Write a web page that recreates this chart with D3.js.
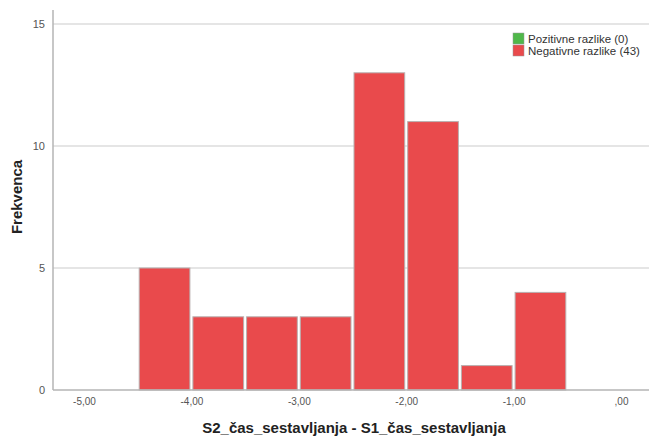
<!DOCTYPE html>
<html>
<head>
<meta charset="utf-8">
<script src="https://cdn.jsdelivr.net/npm/d3@7"></script>
<style>
  body { margin: 0; background: #fff; }
  svg { display: block; font-family: "Liberation Sans", Arial, sans-serif; }
</style>
</head>
<body>
<div id="container"></div>
<script>
/* DATA */
const binStarts = [-4.5, -4.0, -3.5, -3.0, -2.5, -2.0, -1.5, -1.0]
const binWidth = 0.5
const counts = [5, 3, 3, 3, 13, 11, 1, 4]
const xTicks = [-5, -4, -3, -2, -1, 0]
const yTicks = [0, 5, 10, 15]
const legendLabels = ["Pozitivne razlike (0)", "Negativne razlike (43)"]
const legendColors = ["#4fb84a", "#e94a4c"]

/* CONSTANTS */
const width = 649, height = 437
const margin = { top: 10, bottom: 47, left: 53, right: 0 }

const svg = d3.select("#container").append("svg")
  .attr("width", width)
  .attr("height", height)

/* SCALES */
const xScale = d3.scaleLinear()
  .domain([-5, 0])
  .range([84, 621])

const yScale = d3.scaleLinear()
  .domain([0, 15])
  .range([390, 24])

// gridlines
svg.append("g")
  .selectAll("line")
  .data(yTicks.filter(d => d > 0))
  .join("line")
  .attr("x1", margin.left)
  .attr("x2", width)
  .attr("y1", d => yScale(d))
  .attr("y2", d => yScale(d))
  .attr("stroke", "#dcdcdc")
  .attr("stroke-width", 1.5)

// bars
svg.append("g")
  .selectAll("rect")
  .data(binStarts.map((s, i) => ({ x0: s, x1: s + binWidth, n: counts[i] })))
  .join("rect")
  .attr("x", d => xScale(d.x0) + 1.5)
  .attr("width", d => xScale(d.x1) - xScale(d.x0) - 3)
  .attr("y", d => yScale(d.n))
  .attr("height", d => yScale(0) - yScale(d.n))
  .attr("fill", "#e94a4c")
  .attr("stroke", "#b8b0b0")
  .attr("stroke-width", 1)

// axes
const xAxis = d3.axisBottom(xScale)
  .tickValues(xTicks)
  .tickSize(0)
  .tickPadding(8)
  .tickFormat(d => d === 0 ? ",00" : d3.format(".2f")(d).replace(".", ",").replace("−", "-"))
const gx = svg.append("g")
  .attr("transform", `translate(0,${yScale(0)})`)
  .call(xAxis)
gx.select(".domain").remove()
gx.selectAll("text").attr("font-size", 10).attr("fill", "#555")
  .attr("font-family", "Liberation Sans, Arial, sans-serif")

svg.append("line")
  .attr("x1", margin.left).attr("x2", width)
  .attr("y1", yScale(0)).attr("y2", yScale(0))
  .attr("stroke", "#b4b4b4").attr("stroke-width", 1.5)

const yAxis = d3.axisLeft(yScale)
  .tickValues(yTicks)
  .tickSize(0)
  .tickPadding(8)
const gy = svg.append("g")
  .attr("transform", `translate(${margin.left},0)`)
  .call(yAxis)
gy.select(".domain").remove()
gy.selectAll("text").attr("font-size", 11).attr("fill", "#555")
  .attr("font-family", "Liberation Sans, Arial, sans-serif")

svg.append("line")
  .attr("x1", margin.left).attr("x2", margin.left)
  .attr("y1", margin.top).attr("y2", yScale(0))
  .attr("stroke", "#b4b4b4").attr("stroke-width", 1.5)

// labels
svg.append("text")
  .attr("x", 354)
  .attr("y", 433)
  .attr("text-anchor", "middle")
  .attr("font-size", 15)
  .attr("font-weight", "bold")
  .attr("fill", "#222")
  .text("S2_čas_sestavljanja - S1_čas_sestavljanja")

svg.append("text")
  .attr("transform", "translate(22,197) rotate(-90)")
  .attr("text-anchor", "middle")
  .attr("font-size", 15)
  .attr("font-weight", "bold")
  .attr("fill", "#222")
  .text("Frekvenca")

// legend
const legend = svg.append("g")
  .attr("transform", "translate(513,33)")
legend.selectAll("rect")
  .data(legendColors)
  .join("rect")
  .attr("x", 0)
  .attr("y", (d, i) => i * 12)
  .attr("width", 11)
  .attr("height", 11)
  .attr("fill", d => d)
  .attr("stroke", "#999")
  .attr("stroke-width", 0.5)
legend.selectAll("text")
  .data(legendLabels)
  .join("text")
  .attr("x", 15)
  .attr("y", (d, i) => i * 12 + 10)
  .attr("font-size", 11.5)
  .attr("fill", "#333")
  .text(d => d)
</script>
</body>
</html>
